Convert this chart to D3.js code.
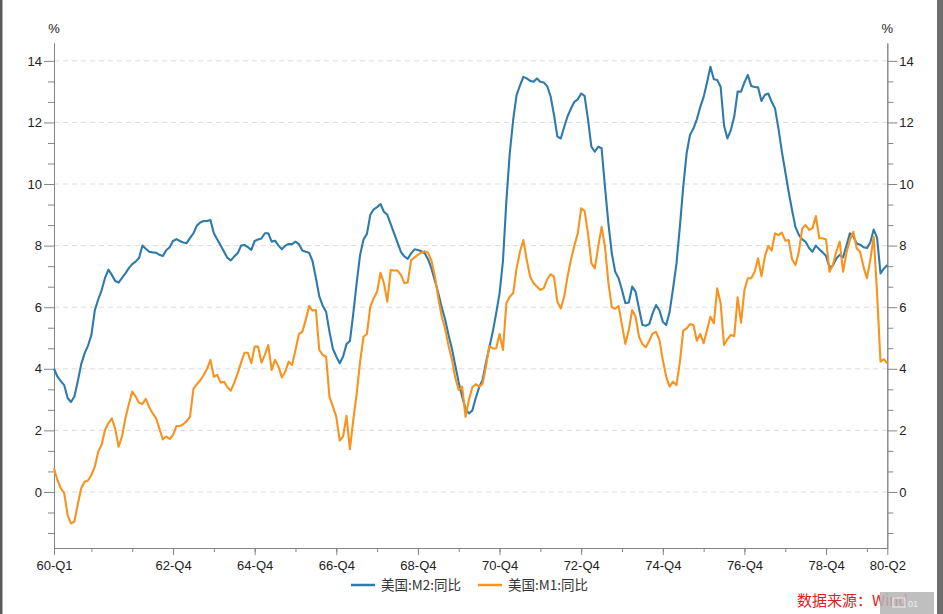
<!DOCTYPE html>
<html>
<head>
<meta charset="utf-8">
<script src="https://cdn.jsdelivr.net/npm/d3@7"></script>
<style>
  body { margin: 0; background: #fff; }
  svg { display: block; font-family: "Liberation Sans", Arial, sans-serif; }
</style>
</head>
<body>
<svg id="chart" width="943" height="614"></svg>
<script>
// US M2 year-over-year growth, %, monthly Jan 1960 - Jun 1980 (one row per year)
const m2 = [
  4.00, 3.75, 3.60, 3.47, 3.05, 2.92, 3.10, 3.60, 4.15, 4.50, 4.75, 5.10,
  5.90, 6.25, 6.55, 6.95, 7.22, 7.05, 6.85, 6.80, 6.95, 7.10, 7.27, 7.40,
  7.48, 7.60, 8.00, 7.90, 7.80, 7.78, 7.77, 7.70, 7.66, 7.85, 7.95, 8.15,
  8.21, 8.15, 8.10, 8.08, 8.25, 8.40, 8.65, 8.75, 8.80, 8.80, 8.83, 8.40,
  8.20, 8.00, 7.80, 7.60, 7.52, 7.65, 7.75, 8.00, 8.02, 7.95, 7.86, 8.15,
  8.20, 8.23, 8.40, 8.40, 8.13, 8.16, 8.00, 7.88, 8.00, 8.05, 8.05, 8.13,
  8.05, 7.84, 7.80, 7.77, 7.50, 6.95, 6.35, 6.05, 5.85, 5.20, 4.65, 4.40,
  4.18, 4.40, 4.80, 4.90, 5.80, 6.80, 7.70, 8.20, 8.38, 9.00, 9.18, 9.25,
  9.35, 9.10, 9.00, 8.70, 8.40, 8.10, 7.80, 7.65, 7.57, 7.75, 7.88, 7.86,
  7.82, 7.75, 7.55, 7.25, 6.85, 6.45, 6.00, 5.60, 5.10, 4.65, 4.10, 3.55,
  3.10, 2.70, 2.55, 2.65, 3.05, 3.40, 3.64, 4.20, 4.70, 5.20, 5.80, 6.45,
  7.50, 9.45, 11.00, 12.08, 12.89, 13.20, 13.48, 13.43, 13.35, 13.32, 13.43, 13.32,
  13.30, 13.18, 12.85, 12.25, 11.54, 11.48, 11.85, 12.20, 12.45, 12.67, 12.75, 12.94,
  12.86, 12.10, 11.21, 11.05, 11.21, 11.16, 9.90, 8.72, 7.75, 7.15, 6.94, 6.56,
  6.13, 6.15, 6.67, 6.50, 5.96, 5.42, 5.40, 5.45, 5.80, 6.07, 5.90, 5.53,
  5.42, 5.85, 6.60, 7.40, 8.60, 9.90, 11.00, 11.60, 11.80, 12.10, 12.50, 12.83,
  13.30, 13.81, 13.40, 13.38, 13.16, 11.90, 11.48, 11.75, 12.19, 13.00, 13.00, 13.30,
  13.54, 13.18, 13.15, 13.14, 12.70, 12.89, 12.94, 12.67, 12.45, 11.80, 11.05, 10.40,
  9.75, 9.15, 8.60, 8.35, 8.20, 8.12, 7.92, 7.80, 8.00, 7.88, 7.78, 7.66,
  7.30, 7.35, 7.58, 7.70, 7.62, 8.00, 8.40, 8.30, 8.07, 8.03, 7.95, 7.92,
  8.10, 8.52, 8.25, 7.10, 7.25, 7.37
];

// US M1 year-over-year growth, %
const m1 = [
  0.77, 0.39, 0.12, -0.04, -0.75, -1.02, -0.96, -0.40, 0.12, 0.33, 0.37, 0.55,
  0.82, 1.31, 1.53, 2.01, 2.23, 2.39, 2.05, 1.47, 1.80, 2.40, 2.85, 3.26,
  3.10, 2.90, 2.86, 3.02, 2.75, 2.55, 2.40, 2.05, 1.71, 1.80, 1.72, 1.85,
  2.14, 2.14, 2.20, 2.30, 2.45, 3.35, 3.50, 3.62, 3.80, 4.00, 4.29, 3.74,
  3.80, 3.55, 3.58, 3.40, 3.29, 3.55, 3.85, 4.20, 4.52, 4.52, 4.18, 4.72,
  4.72, 4.20, 4.45, 4.77, 3.96, 4.29, 4.07, 3.72, 3.91, 4.23, 4.12, 4.61,
  5.13, 5.20, 5.58, 6.04, 5.89, 5.91, 4.61, 4.45, 4.39, 3.09, 2.77, 2.44,
  1.67, 1.80, 2.47, 1.39, 2.34, 3.20, 4.23, 5.04, 5.13, 6.02, 6.29, 6.50,
  7.12, 6.78, 6.18, 7.21, 7.19, 7.19, 7.05, 6.78, 6.80, 7.53, 7.62, 7.70,
  7.77, 7.82, 7.76, 7.50, 7.00, 6.30, 5.70, 5.30, 4.75, 4.30, 3.70, 3.31,
  3.42, 2.44, 2.99, 3.40, 3.50, 3.42, 3.51, 4.07, 4.74, 4.66, 4.66, 5.13,
  4.61, 6.13, 6.34, 6.45, 7.26, 7.80, 8.18, 7.53, 6.99, 6.78, 6.67, 6.56,
  6.62, 6.90, 7.07, 6.99, 6.18, 5.96, 6.34, 7.00, 7.55, 8.00, 8.40, 9.21,
  9.13, 8.40, 7.43, 7.26, 7.96, 8.61, 7.96, 6.80, 6.00, 5.95, 6.04, 5.42,
  4.81, 5.26, 5.91, 5.69, 5.04, 4.80, 4.70, 4.90, 5.15, 5.20, 4.94, 4.29,
  3.74, 3.42, 3.58, 3.47, 4.20, 5.24, 5.31, 5.45, 5.42, 4.91, 5.13, 4.83,
  5.26, 5.69, 5.48, 6.61, 6.13, 4.77, 4.96, 5.10, 5.06, 6.32, 5.50, 6.56,
  6.94, 6.94, 7.15, 7.59, 7.01, 7.64, 7.99, 7.84, 8.40, 8.34, 8.42, 8.16,
  8.18, 7.56, 7.37, 7.80, 8.56, 8.67, 8.51, 8.56, 8.96, 8.24, 8.24, 8.20,
  7.15, 7.37, 7.80, 8.13, 7.15, 7.77, 8.18, 8.45, 7.91, 7.80, 7.31, 6.94,
  7.53, 8.29, 6.45, 4.23, 4.31, 4.18
];

const xTickLabels = ["60-Q1", "62-Q4", "64-Q4", "66-Q4", "68-Q4", "70-Q4", "72-Q4", "74-Q4", "76-Q4", "78-Q4", "80-Q2"];
const xTickMonths = ["1960-01", "1962-12", "1964-12", "1966-12", "1968-12", "1970-12", "1972-12", "1974-12", "1976-12", "1978-12", "1980-06"];
const yTicks = [0, 2, 4, 6, 8, 10, 12, 14];
const seriesNames = ["美国:M2:同比", "美国:M1:同比"];
const seriesColors = ["#2e7bab", "#f7931e"];

// month keys for every data point
const fmt = d3.timeFormat("%Y-%m");
const months = d3.timeMonth.range(new Date(1960, 0, 1), new Date(1980, 6, 1)).map(fmt);

const svg = d3.select("#chart");
const plotL = 54, plotR = 887.3, plotT = 43, plotB = 548;

const x = d3.scaleLinear().domain([0, months.length - 1]).range([plotL, plotR]);
const y = d3.scaleLinear().domain([-1.82, 14.58]).range([plotB, plotT]);

// dashed gridlines
svg.append("g")
    .selectAll("line")
    .data(yTicks)
    .enter()
    .append("line")
    .attr("x1", plotL).attr("x2", plotR)
    .attr("y1", d => y(d)).attr("y2", d => y(d))
    .attr("stroke", "#dcdcdc")
    .attr("stroke-dasharray", "5,4")
    .attr("stroke-width", 1);

// minor ticks every 2/3 of a unit
const yMinor = d3.range(-2, 22).filter(k => k % 3 !== 0).map(k => k * 2 / 3);

function styleAxis(g) {
    g.selectAll("path, line").attr("stroke", "#858585");
    g.selectAll("text").attr("fill", "#222").style("font-size", "13px");
}

svg.append("g")
    .attr("transform", `translate(${plotL},0)`)
    .call(d3.axisLeft(y).tickValues(yMinor).tickSize(6).tickSizeOuter(0).tickFormat(""))
    .call(styleAxis);
svg.append("g")
    .attr("transform", `translate(${plotL},0)`)
    .call(d3.axisLeft(y).tickValues(yTicks).tickSize(10).tickSizeOuter(0).tickPadding(2).tickFormat(d3.format("d")))
    .call(styleAxis);

svg.append("g")
    .attr("transform", `translate(${plotR},0)`)
    .call(d3.axisRight(y).tickValues(yMinor).tickSize(6).tickSizeOuter(0).tickFormat(""))
    .call(styleAxis);
svg.append("g")
    .attr("transform", `translate(${plotR},0)`)
    .call(d3.axisRight(y).tickValues(yTicks).tickSize(10).tickSizeOuter(0).tickPadding(2).tickFormat(d3.format("d")))
    .call(styleAxis);

// x axis: minor tick every December, labels on selected months
const decIdx = months.map((m, i) => m.endsWith("-12") ? i : -1).filter(i => i >= 0);
const majorIdx = xTickMonths.map(m => months.indexOf(m));

svg.append("g")
    .attr("transform", `translate(0,${plotB})`)
    .call(d3.axisBottom(x).tickValues(decIdx).tickSize(4).tickSizeOuter(0).tickFormat(""))
    .call(styleAxis);
svg.append("g")
    .attr("transform", `translate(0,${plotB})`)
    .call(d3.axisBottom(x).tickValues(majorIdx).tickSize(7).tickSizeOuter(0).tickPadding(6)
        .tickFormat(i => xTickLabels[majorIdx.indexOf(i)]))
    .call(styleAxis);

// unit labels
svg.append("text").attr("x", plotL).attr("y", 33).attr("text-anchor", "middle")
    .style("font-size", "13px").attr("fill", "#222").text("%");
svg.append("text").attr("x", plotR).attr("y", 33).attr("text-anchor", "middle")
    .style("font-size", "13px").attr("fill", "#222").text("%");

// series lines
const line = d3.line()
    .x((d, i) => x(i))
    .y(d => y(d));

[m2, m1].forEach((s, k) => {
    svg.append("path")
        .datum(s)
        .attr("fill", "none")
        .attr("stroke", seriesColors[k])
        .attr("stroke-width", 2.1)
        .attr("stroke-linejoin", "round")
        .attr("d", line);
});

// legend
const legendX = [351, 478];
seriesNames.forEach((name, k) => {
    const g = svg.append("g").attr("transform", `translate(${legendX[k]},585)`);
    g.append("line").attr("x1", 0).attr("x2", 24).attr("y1", 0).attr("y2", 0)
        .attr("stroke", seriesColors[k]).attr("stroke-width", 2.5);
    g.append("text").attr("x", 30).attr("y", 5)
        .style("font-size", "13.5px")
        .style("font-family", '"Noto Sans CJK SC", "Liberation Sans", sans-serif')
        .attr("fill", "#333").text(name);
});

// source note
svg.append("text").attr("x", 797).attr("y", 606)
    .style("font-size", "15px")
    .style("font-family", '"Noto Sans CJK SC", sans-serif')
    .attr("fill", "#e0201f").text("数据来源：Wind");

// grey overlay badge in the corner
svg.append("rect").attr("x", 880).attr("y", 592).attr("width", 54).attr("height", 22)
    .attr("fill", "#b4b4b4").attr("opacity", 0.85);
svg.append("rect").attr("x", 893).attr("y", 598).attr("width", 12).attr("height", 9)
    .attr("fill", "none").attr("stroke", "#eee").attr("stroke-width", 1);
svg.append("text").attr("x", 908).attr("y", 607).style("font-size", "9px")
    .attr("fill", "#eee").text("01");

// frame edges of the screenshot
svg.append("rect").attr("x", 0).attr("y", 0).attr("width", 2.5).attr("height", 614).attr("fill", "#5a5a5a");
svg.append("rect").attr("x", 937).attr("y", 0).attr("width", 6).attr("height", 614).attr("fill", "#6e6e6e");
</script>
</body>
</html>
